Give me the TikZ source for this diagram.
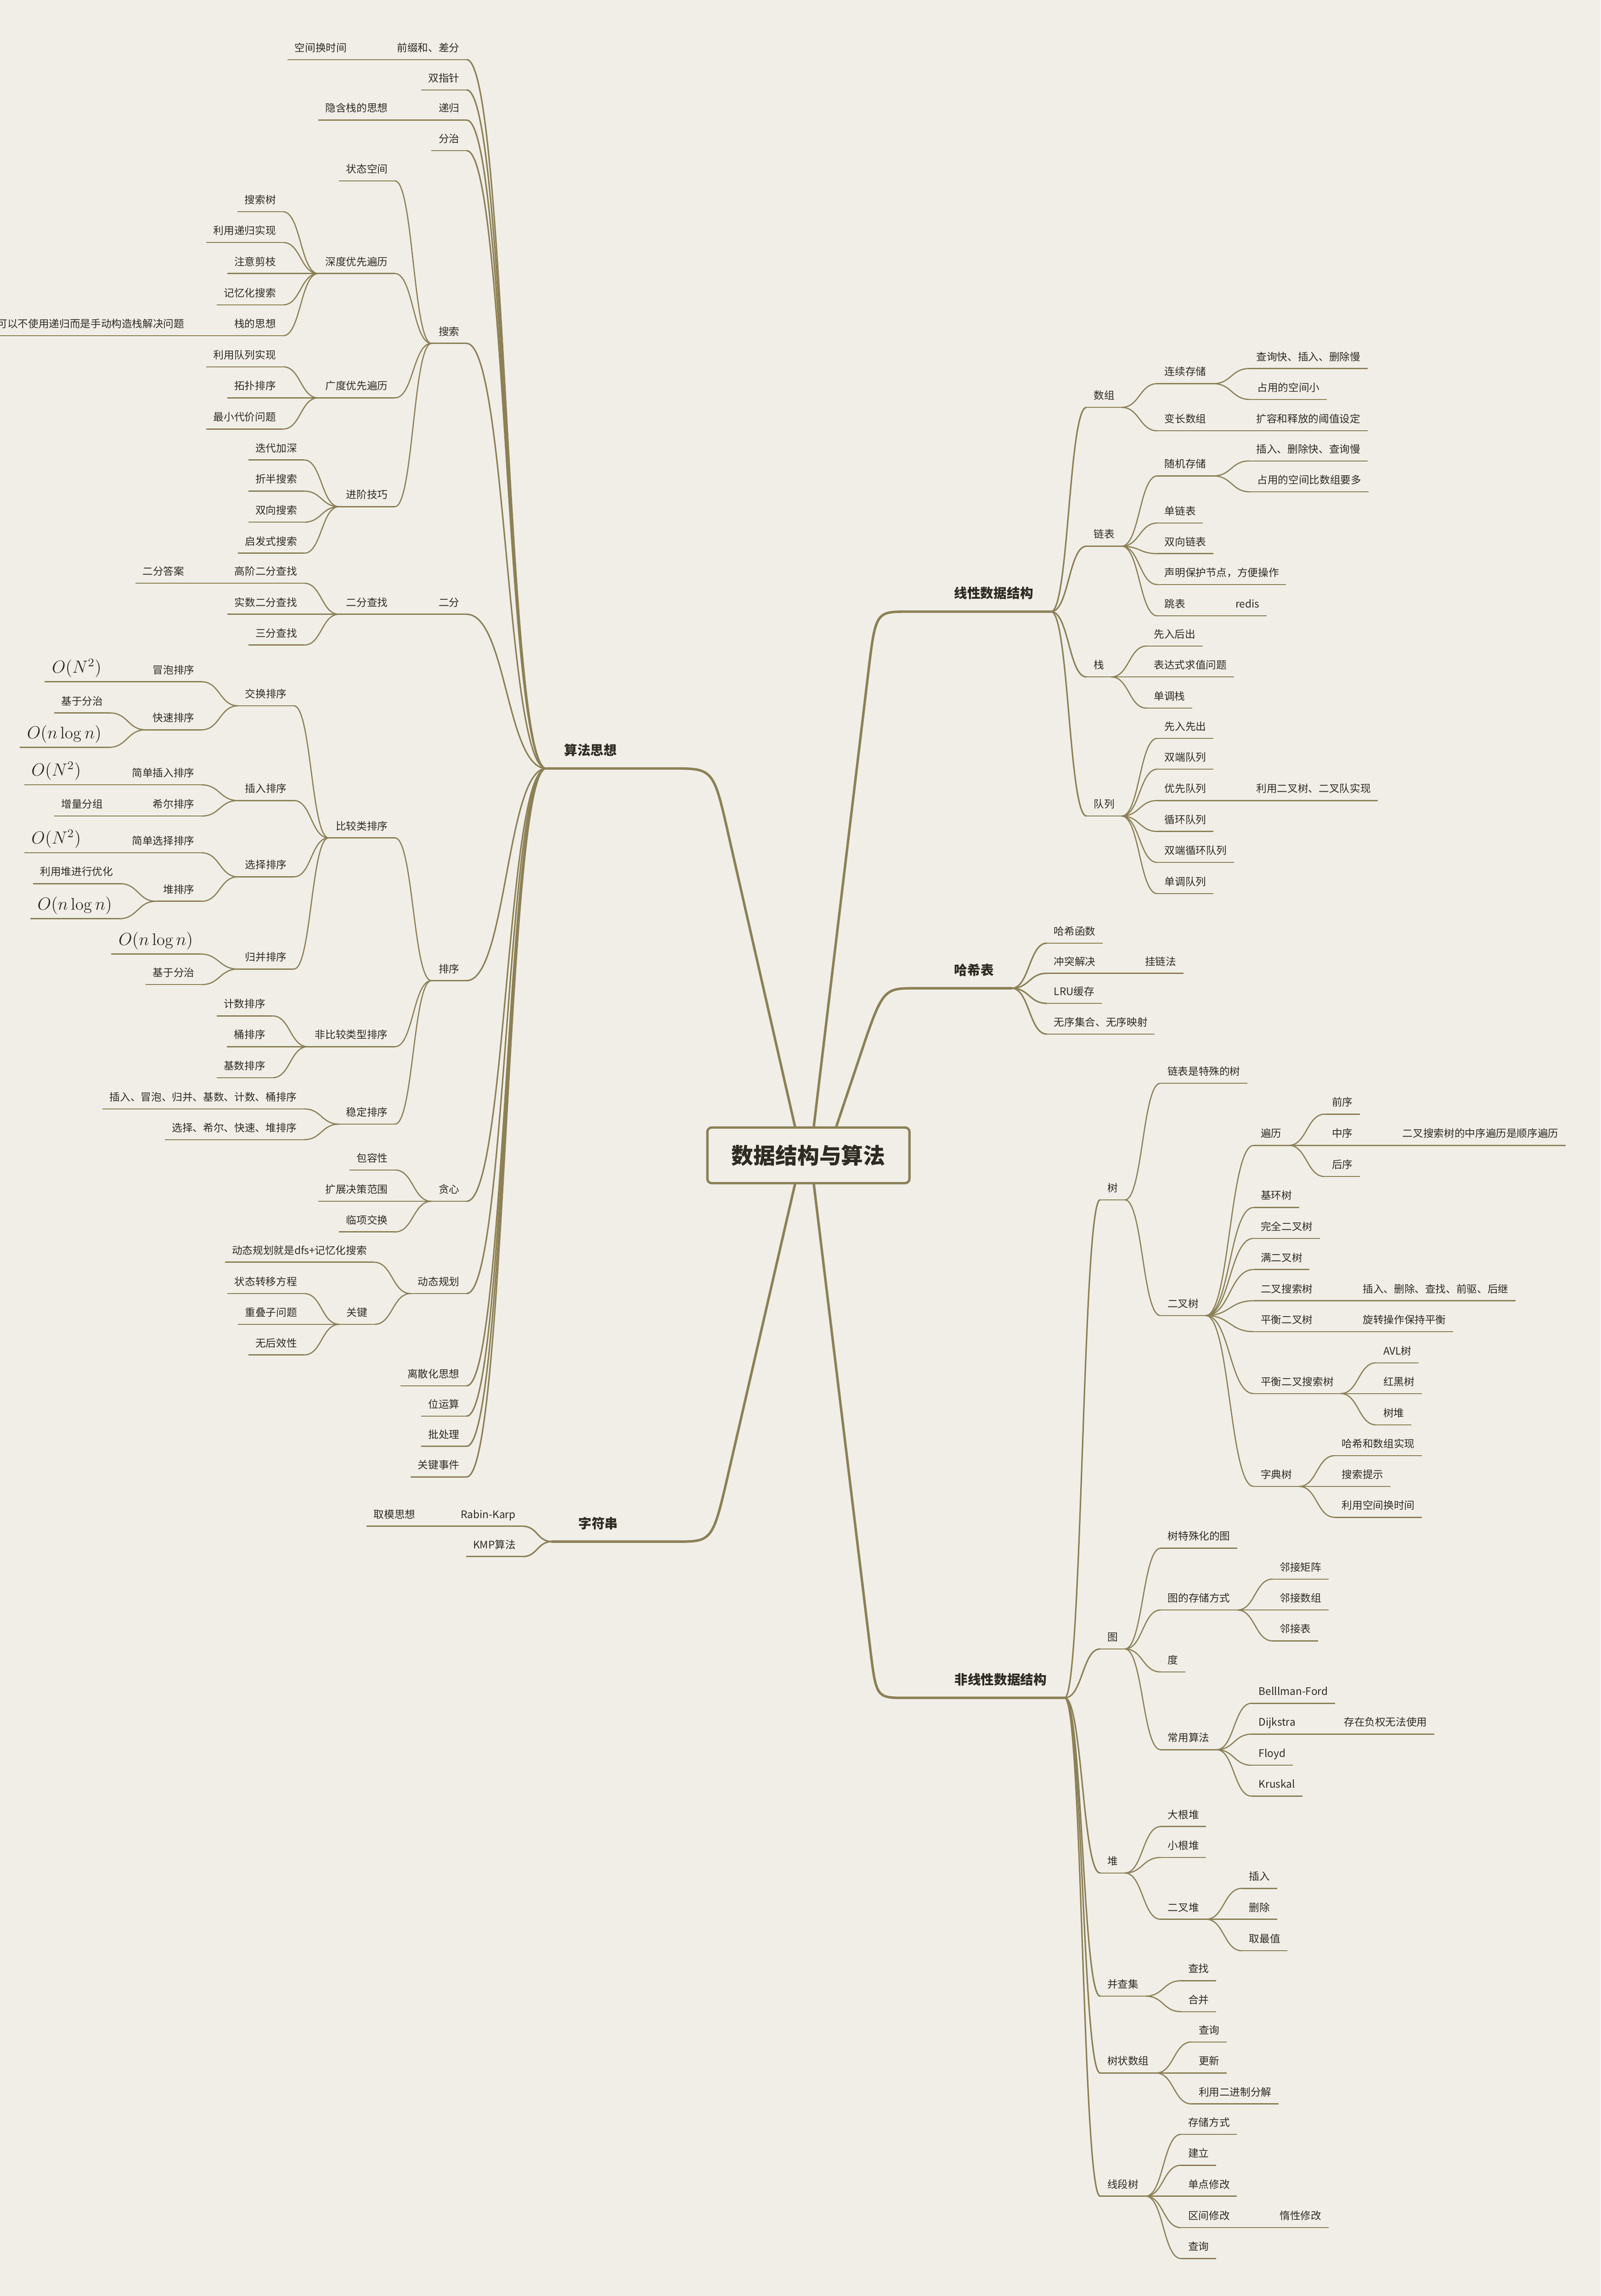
\documentclass[tikz,border=0pt]{standalone}
\usepackage{fontspec}
\newfontfamily\cjk{Noto Sans CJK SC}
\usepackage{tikz}
\usetikzlibrary{calc}
\definecolor{bgc}{HTML}{F0EEE7}
\definecolor{linec}{HTML}{8C8056}
\definecolor{textc}{HTML}{2E2B22}
\tikzset{
  uline/.style={draw=linec, line width=0.8pt},
  nd/.style={font=\cjk\fontsize{7.1}{8}\selectfont, text=textc, inner xsep=4.7pt, inner ysep=3.8pt,
    text height=5.8pt, text depth=1.5pt,
    append after command={(\tikzlastnode.south west) edge[uline] (\tikzlastnode.south east)}},
  ln/.style={nd, anchor=south east},
  rn/.style={nd, anchor=south west},
  mth/.style={font=\fontsize{11.5}{13}\selectfont, text height=8pt, text depth=3pt, inner ysep=2.9pt},
  mainnd/.style={font=\cjk\bfseries\fontsize{9}{10}\selectfont, text=textc, inner xsep=12pt,
    inner ysep=6.9pt, text height=7pt, text depth=2pt},
  rootnd/.style={draw=linec, line width=1.6pt, rounded corners=3pt, fill=bgc, minimum width=138pt,
    minimum height=38pt, font=\cjk\bfseries\fontsize{15}{16}\selectfont, text=textc,
    text height=13.2pt, text depth=1.8pt},
  trunk/.style={draw=linec, line width=1.7pt, line cap=round},
  br/.style={draw=linec, line width=0.8pt, to path={let \p1=(\tikztostart), \p2=(\tikztotarget) in
    .. controls ({(\x1+\x2)/2},\y1) and ({(\x1+\x2)/2},\y2) .. (\tikztotarget)}},
  br1/.style={br, line width=1pt}
}
\begin{document}
\begin{tikzpicture}[x=1pt,y=-1pt]
\useasboundingbox[fill=bgc] (0,0) rectangle (1093,1568);

% Root and main branches
\node[rootnd] (root) at (552,789) {数据结构与算法};
\node[mainnd, anchor=south west] (algo) at (373,524.8) {算法思想};
\node[mainnd, anchor=south west, inner xsep=18pt] (zfc) at (376.8,1052.8) {字符串};
\node[mainnd, anchor=south east] (lin) at (717.7,417.7) {线性数据结构};
\node[mainnd, anchor=south east] (hash) at (690.8,674.9) {哈希表};
\node[mainnd, anchor=south east] (nonlin) at (727,1159.5) {非线性数据结构};

\draw[trunk] ([xshift=-9.2pt]root.north) -- (497.8,571.8) .. controls (487.2,524.8) .. (459.2,524.8) -- (algo.south west);
\draw[trunk] ([xshift=-9.2pt]root.south) -- (497.8,1004.2) .. controls (486.6,1052.8) .. (461.7,1052.8) -- (zfc.south west);
\draw[trunk] ([xshift=3.7pt]root.north) -- (592.8,460) .. controls (597.9,417.7) .. (620,417.7) -- (lin.south east);
\draw[trunk] ([xshift=19.1pt]root.north) -- (585.5,726.3) .. controls (602.6,674.9) .. (625,674.9) -- (hash.south east);
\draw[trunk] ([xshift=3.7pt]root.south) -- (594.1,1125) .. controls (598.3,1159.5) .. (618,1159.5) -- (nonlin.south east);

% Algorithm ideas
\node[ln] (qz) at (318.6,40.7) {前缀和、差分};
\node[ln] (kjhsj) at (241.7,40.7) {空间换时间};
\node[ln] (szz) at (318.6,61.4) {双指针};
\node[ln] (dg) at (318.6,82) {递归};
\node[ln] (yhz) at (269.7,82) {隐含栈的思想};
\node[ln] (fz) at (318.6,102.9) {分治};
\node[ln] (ss) at (318.6,234.5) {搜索};
\node[ln] (ztkj) at (269.7,123.5) {状态空间};
\node[ln] (dfs) at (269.7,186.8) {深度优先遍历};
\node[ln] (sst) at (193.3,144.6) {搜索树};
\node[ln] (lydg) at (193.3,165.6) {利用递归实现};
\node[ln] (zyjz) at (193.3,186.8) {注意剪枝};
\node[ln] (jyh) at (193.3,208.2) {记忆化搜索};
\node[ln] (zdsx) at (193.3,229.3) {栈的思想};
\node[ln] (kyby) at (130.7,229.3) {可以不使用递归而是手动构造栈解决问题};
\node[ln] (bfs) at (269.7,271.7) {广度优先遍历};
\node[ln] (lydl) at (193.3,250.5) {利用队列实现};
\node[ln] (tppx) at (193.3,271.7) {拓扑排序};
\node[ln] (zxdj) at (193.3,293) {最小代价问题};
\node[ln] (jjjq) at (269.7,346) {进阶技巧};
\node[ln] (ddjs) at (207.7,314.1) {迭代加深};
\node[ln] (zbss) at (207.7,335.4) {折半搜索};
\node[ln] (sxss) at (207.7,356.6) {双向搜索};
\node[ln] (qfss) at (207.7,377.8) {启发式搜索};
\node[ln] (ef) at (318.6,419.5) {二分};
\node[ln] (efcz) at (269.7,419.5) {二分查找};
\node[ln] (gjef) at (207.7,398.3) {高阶二分查找};
\node[ln] (efda) at (130.7,398.3) {二分答案};
\node[ln] (ssef) at (207.7,419.5) {实数二分查找};
\node[ln] (sfcz) at (207.7,440.5) {三分查找};
% Sorting
\node[ln] (px) at (318.6,669.7) {排序};
\node[ln] (bjl) at (269.7,572.2) {比较类排序};
\node[ln] (jhpx) at (200.7,482) {交换排序};
\node[ln] (mppx) at (137.7,465.6) {冒泡排序};
\node[ln, mth] (on1) at (74.2,465.6) {$O(N^2)$};
\node[ln] (kspx) at (137.7,498.4) {快速排序};
\node[ln] (jyfz1) at (75.2,486.9) {基于分治};
\node[ln, mth] (onl1) at (74.2,510.4) {$O(n\log n)$};
\node[ln] (crpx) at (200.7,546.7) {插入排序};
\node[ln] (jdcr) at (137.7,536) {简单插入排序};
\node[ln, mth] (on2) at (60.2,536) {$O(N^2)$};
\node[ln] (xepx) at (137.7,557.3) {希尔排序};
\node[ln] (zlfz) at (75.2,557.3) {增量分组};
\node[ln] (xzpx) at (200.7,598.8) {选择排序};
\node[ln] (jdxz) at (137.7,582.4) {简单选择排序};
\node[ln, mth] (on3) at (60.2,582.4) {$O(N^2)$};
\node[ln] (dpx) at (137.7,615.5) {堆排序};
\node[ln] (lyd) at (82.1,603.5) {利用堆进行优化};
\node[ln, mth] (onl2) at (81.4,627.4) {$O(n\log n)$};
\node[ln] (gbpx) at (200.7,661.8) {归并排序};
\node[ln, mth] (onl3) at (136.7,651.5) {$O(n\log n)$};
\node[ln] (jyfz2) at (137.7,672.4) {基于分治};
\node[ln] (fbj) at (269.7,714.8) {非比较类型排序};
\node[ln] (jspx) at (186.1,693.8) {计数排序};
\node[ln] (tpx) at (186.1,714.8) {桶排序};
\node[ln] (jspx2) at (186.1,736) {基数排序};
\node[ln] (wdpx) at (269.7,767.7) {稳定排序};
\node[ln] (wd1) at (207.6,757.3) {插入、冒泡、归并、基数、计数、桶排序};
\node[ln] (wd2) at (207.6,778.3) {选择、希尔、快速、堆排序};
% Greedy and DP
\node[ln] (tx) at (318.6,820.4) {贪心};
\node[ln] (bhx) at (269.7,799) {包容性};
\node[ln] (kzjc) at (269.7,820.4) {扩展决策范围};
\node[ln] (lxjh) at (269.7,841.3) {临项交换};
\node[ln] (dt) at (318.6,883.4) {动态规划};
\node[ln] (dtdfs) at (255.4,862) {动态规划就是dfs+记忆化搜索};
\node[ln] (gj) at (255.7,904.4) {关键};
\node[ln] (ztzy) at (207.7,883.4) {状态转移方程};
\node[ln] (cdzwt) at (207.7,904.4) {重叠子问题};
\node[ln] (whxx) at (207.7,925.3) {无后效性};
\node[ln] (lsh) at (318.6,946.4) {离散化思想};
\node[ln] (wys) at (318.6,967.1) {位运算};
\node[ln] (pcl) at (318.6,987.7) {批处理};
\node[ln] (gjsj) at (318.6,1008.6) {关键事件};
% Strings
\node[ln] (rk) at (357,1042.3) {Rabin-Karp};
\node[ln] (qmsx) at (288.5,1042.3) {取模思想};
\node[ln] (kmp) at (357,1063) {KMP算法};

% Linear structures
\node[rn] (sz) at (741.9,278.2) {数组};
\node[rn] (lxcc) at (790.3,262) {连续存储};
\node[rn] (cxk) at (853,251.7) {查询快、插入、删除慢};
\node[rn] (zykj) at (853.6,272.8) {占用的空间小};
\node[rn] (bcsz) at (790.3,294.2) {变长数组};
\node[rn] (krsf) at (853,294.2) {扩容和释放的阈值设定};
\node[rn] (lb) at (741.9,373) {链表};
\node[rn] (sjcc) at (790.3,325) {随机存储};
\node[rn] (crsk) at (853,314.8) {插入、删除快、查询慢};
\node[rn] (zykj2) at (853.6,335.9) {占用的空间比数组要多};
\node[rn] (dlb) at (790.3,357.2) {单链表};
\node[rn] (sxlb) at (790.3,378.1) {双向链表};
\node[rn] (smbh) at (790.3,399.2) {声明保护节点，方便操作};
\node[rn] (tb) at (790.3,420.6) {跳表};
\node[rn] (redis) at (838.7,420.6) {redis};
\node[rn] (zh) at (741.9,462.3) {栈};
\node[rn] (xrhc) at (783,441.2) {先入后出};
\node[rn] (bdsq) at (783,462.3) {表达式求值问题};
\node[rn] (ddz) at (783,483.6) {单调栈};
\node[rn] (dl) at (741.9,557.3) {队列};
\node[rn] (xrxc) at (790.3,504.2) {先入先出};
\node[rn] (sddl) at (790.3,525.3) {双端队列};
\node[rn] (yxdl) at (790.3,546.7) {优先队列};
\node[rn] (lyecs) at (853,546.7) {利用二叉树、二叉队实现};
\node[rn] (xhdl) at (790.3,567.8) {循环队列};
\node[rn] (sdxh) at (790.3,589) {双端循环队列};
\node[rn] (ddl) at (790.3,610.3) {单调队列};
% Hash table
\node[rn] (hxhs) at (714.8,644.1) {哈希函数};
\node[rn] (ctjj) at (714.8,664.7) {冲突解决};
\node[rn] (glf) at (777,664.7) {挂链法};
\node[rn] (lru) at (714.8,685.2) {LRU缓存};
\node[rn] (wxjh) at (714.8,706.2) {无序集合、无序映射};
% Trees
\node[rn] (shu) at (751.2,819.4) {树};
\node[rn] (lbts) at (792.3,739.8) {链表是特殊的树};
\node[rn] (ecs) at (792.3,898.4) {二叉树};
\node[rn] (bl) at (856,782.2) {遍历};
\node[rn] (qx) at (904.6,760.9) {前序};
\node[rn] (zx) at (904.6,782.2) {中序};
\node[rn] (zxbl) at (952.8,782.2) {二叉搜索树的中序遍历是顺序遍历};
\node[rn] (hx) at (904.6,803.5) {后序};
\node[rn] (jhs) at (856,824.6) {基环树};
\node[rn] (wqecs) at (856,845.7) {完全二叉树};
\node[rn] (mecs) at (856,867) {满二叉树};
\node[rn] (ecss) at (856,888.3) {二叉搜索树};
\node[rn] (crsc) at (925.7,888.3) {插入、删除、查找、前驱、后继};
\node[rn] (phecs) at (856,909.4) {平衡二叉树};
\node[rn] (xzcz) at (925.7,909.4) {旋转操作保持平衡};
\node[rn] (phss) at (856,951.7) {平衡二叉搜索树};
\node[rn] (avl) at (939.7,930.7) {AVL树};
\node[rn] (hhs) at (939.7,951.7) {红黑树};
\node[rn] (sd) at (939.7,973.1) {树堆};
\node[rn] (zds) at (856,1015.1) {字典树};
\node[rn] (hxsz) at (911.4,994.1) {哈希和数组实现};
\node[rn] (sstx) at (911.4,1015.1) {搜索提示};
\node[rn] (lykj) at (911.4,1036.2) {利用空间换时间};
% Graphs
\node[rn] (tu) at (751.2,1126.1) {图};
\node[rn] (tstu) at (792.5,1057.3) {树特殊化的图};
\node[rn] (tccfs) at (792.5,1099.5) {图的存储方式};
\node[rn] (ljjz) at (869,1078.4) {邻接矩阵};
\node[rn] (ljsz) at (869,1099.5) {邻接数组};
\node[rn] (ljb) at (869,1120.6) {邻接表};
\node[rn] (du) at (792.5,1141.8) {度};
\node[rn] (cysf) at (792.5,1194.9) {常用算法};
\node[rn] (bf) at (854.6,1163.2) {Belllman-Ford};
\node[rn] (dij) at (854.6,1184.3) {Dijkstra};
\node[rn] (czfq) at (912.8,1184.3) {存在负权无法使用};
\node[rn] (floyd) at (854.6,1205.5) {Floyd};
\node[rn] (krus) at (854.6,1226.6) {Kruskal};
% Heap, DSU, BIT, segment tree
\node[rn] (dui) at (751.2,1279.1) {堆};
\node[rn] (dgd) at (792.5,1247.4) {大根堆};
\node[rn] (xgd) at (792.5,1268.5) {小根堆};
\node[rn] (ecd) at (792.5,1310.7) {二叉堆};
\node[rn] (cr) at (848,1289.6) {插入};
\node[rn] (sc) at (848,1310.7) {删除};
\node[rn] (qzz) at (848,1332.2) {取最值};
\node[rn] (bcj) at (751.2,1363.2) {并查集};
\node[rn] (cz) at (806.4,1352.7) {查找};
\node[rn] (hb) at (806.4,1373.8) {合并};
\node[rn] (szsz) at (751.2,1415.7) {树状数组};
\node[rn] (cx) at (813.6,1394.5) {查询};
\node[rn] (gx) at (813.6,1415.7) {更新};
\node[rn] (lyejz) at (813.6,1436.8) {利用二进制分解};
\node[rn] (xds) at (751.2,1499.8) {线段树};
\node[rn] (ccfs) at (806.4,1457.6) {存储方式};
\node[rn] (jl) at (806.4,1478.7) {建立};
\node[rn] (ddxg) at (806.4,1499.8) {单点修改};
\node[rn] (qjxg) at (806.4,1521.3) {区间修改};
\node[rn] (dxxg) at (869,1521.3) {惰性修改};
\node[rn] (cx2) at (806.4,1542.4) {查询};

% Connectors, left side
\foreach \c in {qz,szz,dg,fz,ss,ef,px,tx,dt,lsh,wys,pcl,gjsj}
  \draw[br1] (algo.south west) to (\c.south east);
\foreach \c in {rk,kmp}
  \draw[br1] (zfc.south west) to (\c.south east);
\foreach \p/\c in {qz/kjhsj,dg/yhz,ss/ztkj,ss/dfs,ss/bfs,ss/jjjq,
    dfs/sst,dfs/lydg,dfs/zyjz,dfs/jyh,dfs/zdsx,zdsx/kyby,bfs/lydl,bfs/tppx,bfs/zxdj,
    jjjq/ddjs,jjjq/zbss,jjjq/sxss,jjjq/qfss,ef/efcz,efcz/gjef,efcz/ssef,efcz/sfcz,gjef/efda,
    px/bjl,px/fbj,px/wdpx,bjl/jhpx,bjl/crpx,bjl/xzpx,bjl/gbpx,
    jhpx/mppx,jhpx/kspx,mppx/on1,kspx/jyfz1,kspx/onl1,crpx/jdcr,crpx/xepx,jdcr/on2,xepx/zlfz,
    xzpx/jdxz,xzpx/dpx,jdxz/on3,dpx/lyd,dpx/onl2,gbpx/onl3,gbpx/jyfz2,
    fbj/jspx,fbj/tpx,fbj/jspx2,wdpx/wd1,wdpx/wd2,tx/bhx,tx/kzjc,tx/lxjh,
    dt/dtdfs,dt/gj,gj/ztzy,gj/cdzwt,gj/whxx,rk/qmsx}
  \draw[br] (\p.south west) to (\c.south east);

% Connectors, right side
\foreach \c in {sz,lb,zh,dl}
  \draw[br1] (lin.south east) to (\c.south west);
\foreach \c in {hxhs,ctjj,lru,wxjh}
  \draw[br1] (hash.south east) to (\c.south west);
\foreach \c in {shu,tu,dui,bcj,szsz,xds}
  \draw[br1] (nonlin.south east) to (\c.south west);
\foreach \p/\c in {sz/lxcc,sz/bcsz,lxcc/cxk,lxcc/zykj,bcsz/krsf,
    lb/sjcc,lb/dlb,lb/sxlb,lb/smbh,lb/tb,sjcc/crsk,sjcc/zykj2,tb/redis,
    zh/xrhc,zh/bdsq,zh/ddz,dl/xrxc,dl/sddl,dl/yxdl,dl/xhdl,dl/sdxh,dl/ddl,yxdl/lyecs,ctjj/glf,
    shu/lbts,shu/ecs,ecs/bl,ecs/jhs,ecs/wqecs,ecs/mecs,ecs/ecss,ecs/phecs,ecs/phss,ecs/zds,
    bl/qx,bl/zx,bl/hx,zx/zxbl,ecss/crsc,phecs/xzcz,phss/avl,phss/hhs,phss/sd,
    zds/hxsz,zds/sstx,zds/lykj,tu/tstu,tu/tccfs,tu/du,tu/cysf,tccfs/ljjz,tccfs/ljsz,tccfs/ljb,
    cysf/bf,cysf/dij,cysf/floyd,cysf/krus,dij/czfq,dui/dgd,dui/xgd,dui/ecd,ecd/cr,ecd/sc,ecd/qzz,
    bcj/cz,bcj/hb,szsz/cx,szsz/gx,szsz/lyejz,xds/ccfs,xds/jl,xds/ddxg,xds/qjxg,xds/cx2,qjxg/dxxg}
  \draw[br] (\p.south east) to (\c.south west);
\end{tikzpicture}
\end{document}
